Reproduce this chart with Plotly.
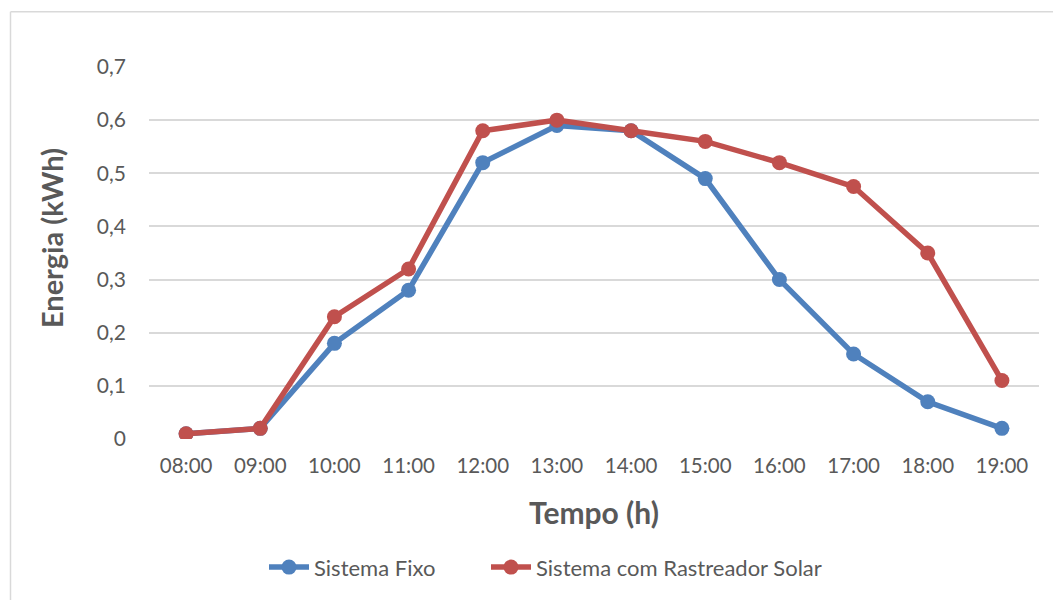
import plotly.graph_objects as go

horas = ["08:00", "09:00", "10:00", "11:00", "12:00", "13:00",
         "14:00", "15:00", "16:00", "17:00", "18:00", "19:00"]
sistema_fixo = [0.01, 0.02, 0.18, 0.28, 0.52, 0.59, 0.58, 0.49, 0.30, 0.16, 0.07, 0.02]
sistema_rastreador = [0.01, 0.02, 0.23, 0.32, 0.58, 0.60, 0.58, 0.56, 0.52, 0.475, 0.35, 0.11]
y_ticks = [0, 0.1, 0.2, 0.3, 0.4, 0.5, 0.6, 0.7]
y_tick_labels = ["0", "0,1", "0,2", "0,3", "0,4", "0,5", "0,6", "0,7"]

AZUL = "#4F81BD"
VERMELHO = "#C0504D"
TEXTO = "#595959"
FONTE = "Lato, 'Open Sans', sans-serif"

W, H = 1053, 600
ML, MR, MT, MB = 149, 14, 67, 159
pw = W - ML - MR
ph = H - MT - MB


def px_x(x):
    return (x - ML) / pw


def px_y(y):
    return (H - MB - y) / ph


fig = go.Figure()
fig.add_trace(go.Scatter(
    x=horas, y=sistema_fixo, name="Sistema Fixo", mode="lines+markers",
    line=dict(color=AZUL, width=5.5), marker=dict(color=AZUL, size=15),
    legend="legend",
))
fig.add_trace(go.Scatter(
    x=horas, y=sistema_rastreador, name="Sistema com Rastreador Solar", mode="lines+markers",
    line=dict(color=VERMELHO, width=5.5), marker=dict(color=VERMELHO, size=15),
    legend="legend2",
))

# outer chart frame (left and top edges visible)
frame = dict(type="line", xref="paper", yref="paper",
             line=dict(color="#D9D9D9", width=1.5), layer="below")
fig.add_shape(x0=px_x(10.5), x1=px_x(10.5), y0=px_y(605), y1=px_y(11.5), **frame)
fig.add_shape(x0=px_x(10.5), x1=px_x(W + 5), y0=px_y(11.5), y1=px_y(11.5), **frame)

# vertical axis title
fig.add_annotation(
    text="<b>Energia (kWh)</b>", textangle=-90, showarrow=False,
    xref="paper", yref="paper", x=px_x(51), y=px_y(239),
    xanchor="center", yanchor="middle",
    font=dict(size=29, color=TEXTO),
)

legend_style = dict(orientation="h", xanchor="left", y=px_y(570), yanchor="middle",
                    font=dict(size=22, color=TEXTO), itemwidth=40,
                    bgcolor="rgba(0,0,0,0)")

fig.update_layout(
    width=W, height=H,
    margin=dict(l=ML, r=MR, t=MT, b=MB),
    paper_bgcolor="white", plot_bgcolor="white",
    font=dict(family=FONTE, size=20, color=TEXTO),
    showlegend=True,
    legend=dict(x=px_x(264), **legend_style),
    legend2=dict(x=px_x(486), **legend_style),
    xaxis=dict(
        type="category", range=[-0.5, 11.5], showgrid=False, zeroline=False,
        showline=False, ticks="", ticklabelstandoff=12, tickfont=dict(size=20.5, color=TEXTO),
        title=dict(text="<b>Tempo (h)</b>", font=dict(size=30, color=TEXTO), standoff=27),
    ),
    yaxis=dict(
        range=[0, 0.7], tickvals=y_ticks, ticktext=y_tick_labels,
        showgrid=True, gridcolor="#D9D9D9", gridwidth=1.5, zeroline=False,
        showline=False, ticks="", ticklabelstandoff=22,
        tickfont=dict(size=21, color=TEXTO),
    ),
)

fig.write_html("out.html")
